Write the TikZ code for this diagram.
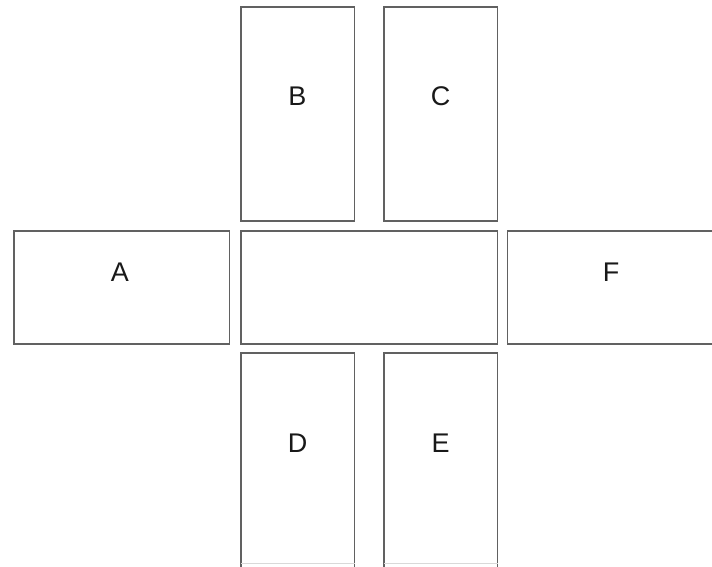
\documentclass[tikz,border=0pt]{standalone}
\usepackage{fontspec}
\setmainfont{Liberation Sans}
\begin{document}
\begin{tikzpicture}[x=1pt,y=-1pt,
  panel/.style={draw=black!62,line width=1.3pt},
  lbl/.style={font=\fontsize{27}{30}\selectfont,text=black!90,inner sep=0pt}]
\useasboundingbox (0,0) rectangle (712,566);
\begin{scope}
\clip (0,0) rectangle (712,566);
\draw[panel] (241,7) rectangle (354.5,221) coordinate (bR);
\coordinate (bL) at (241,7);
\draw[panel] (384,7) rectangle (497.5,221);
\draw[panel] (14,231) rectangle (229.5,344);
\draw[panel] (241,231) rectangle (497.5,344);
\draw[panel] (507.5,231) rectangle (730,344);
\draw[panel] (241,353) rectangle (354.5,600);
\draw[panel] (384,353) rectangle (497.5,600);
\draw[draw=black!15,line width=1pt] (241,563) -- (354.5,563) (384,563) -- (497.5,563);
\end{scope}
\node[lbl] (B) at (297.5,96) {B};
\node[lbl] (C) at (440.5,96) {C};
\node[lbl] (A) at (120,272) {A};
\node[lbl] (F) at (611,272) {F};
\node[lbl] (D) at (297.5,443) {D};
\node[lbl] (E) at (440.5,443) {E};
\end{tikzpicture}
\end{document}
